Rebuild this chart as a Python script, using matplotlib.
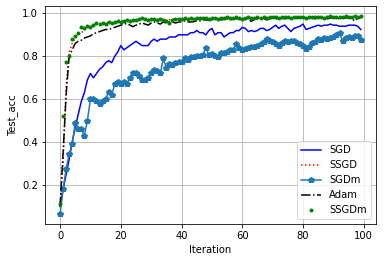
import numpy as np
import matplotlib
matplotlib.use("Agg")
import matplotlib.pyplot as plt

# === Test accuracy per iteration ===
sgd = [
    0.10, 0.18, 0.25, 0.32, 0.40, 0.47, 0.53, 0.59, 0.63, 0.69,
    0.72, 0.70, 0.72, 0.74, 0.75, 0.77, 0.78, 0.77, 0.80, 0.82,
    0.85, 0.83, 0.84, 0.85, 0.86, 0.87, 0.86, 0.85, 0.85, 0.85,
    0.87, 0.88, 0.87, 0.88, 0.88, 0.88, 0.89, 0.89, 0.89, 0.90,
    0.90, 0.90, 0.90, 0.91, 0.91, 0.92, 0.91, 0.91, 0.90, 0.92,
    0.93, 0.90, 0.91, 0.91, 0.89, 0.90, 0.91, 0.91, 0.92, 0.92,
    0.935, 0.93, 0.915, 0.92, 0.915, 0.92, 0.93, 0.93, 0.92, 0.925,
    0.935, 0.945, 0.93, 0.94, 0.945, 0.93, 0.915, 0.93, 0.935, 0.94,
    0.95, 0.925, 0.93, 0.935, 0.94, 0.945, 0.94, 0.945, 0.945, 0.95,
    0.945, 0.945, 0.94, 0.94, 0.94, 0.945, 0.945, 0.945, 0.94, 0.925,
]
ssgd = [
    0.10, 0.30, 0.66, 0.82, 0.86, 0.885, 0.90, 0.91, 0.92, 0.935,
    0.94, 0.945, 0.95, 0.948, 0.952, 0.955, 0.958, 0.955, 0.96, 0.963,
    0.968, 0.965, 0.967, 0.965, 0.97, 0.968, 0.972, 0.975, 0.972, 0.97,
    0.973, 0.975, 0.972, 0.975, 0.972, 0.968, 0.97, 0.973, 0.975, 0.973,
    0.972, 0.975, 0.973, 0.975, 0.972, 0.975, 0.976, 0.978, 0.975, 0.973,
    0.977, 0.975, 0.973, 0.978, 0.976, 0.979, 0.977, 0.975, 0.98, 0.978,
    0.973, 0.978, 0.98, 0.976, 0.978, 0.98, 0.977, 0.98, 0.978, 0.98,
    0.982, 0.98, 0.978, 0.98, 0.982, 0.98, 0.978, 0.982, 0.98, 0.979,
    0.982, 0.978, 0.98, 0.982, 0.98, 0.982, 0.98, 0.978, 0.982, 0.984,
    0.98, 0.982, 0.98, 0.982, 0.984, 0.982, 0.98, 0.984, 0.982, 0.985,
]
sgdm = [
    0.065, 0.18, 0.275, 0.345, 0.39, 0.49, 0.46, 0.46, 0.43, 0.50,
    0.60, 0.60, 0.59, 0.58, 0.59, 0.60, 0.635, 0.62, 0.67, 0.68,
    0.67, 0.68, 0.67, 0.70, 0.72, 0.72, 0.71, 0.69, 0.69, 0.70,
    0.72, 0.735, 0.73, 0.72, 0.79, 0.745, 0.765, 0.76, 0.77, 0.775,
    0.775, 0.79, 0.785, 0.795, 0.795, 0.80, 0.80, 0.805, 0.84, 0.805,
    0.81, 0.80, 0.795, 0.815, 0.815, 0.82, 0.83, 0.83, 0.855, 0.84,
    0.83, 0.835, 0.84, 0.845, 0.845, 0.85, 0.855, 0.865, 0.88, 0.87,
    0.865, 0.855, 0.85, 0.86, 0.87, 0.865, 0.87, 0.87, 0.86, 0.855,
    0.85, 0.835, 0.845, 0.86, 0.865, 0.88, 0.875, 0.885, 0.88, 0.885,
    0.89, 0.90, 0.91, 0.87, 0.885, 0.89, 0.885, 0.895, 0.895, 0.875,
]
adam = [
    0.10, 0.35, 0.62, 0.80, 0.83, 0.86, 0.87, 0.875, 0.885, 0.89,
    0.895, 0.905, 0.91, 0.915, 0.92, 0.925, 0.925, 0.93, 0.935, 0.94,
    0.945, 0.95, 0.953, 0.945, 0.938, 0.945, 0.95, 0.955, 0.95, 0.945,
    0.955, 0.96, 0.955, 0.95, 0.96, 0.955, 0.96, 0.96, 0.955, 0.96,
    0.96, 0.965, 0.96, 0.96, 0.961, 0.965, 0.965, 0.97, 0.969, 0.97,
    0.97, 0.972, 0.975, 0.97, 0.972, 0.975, 0.97, 0.972, 0.975, 0.975,
    0.972, 0.975, 0.97, 0.963, 0.972, 0.975, 0.978, 0.975, 0.97, 0.975,
    0.978, 0.975, 0.972, 0.978, 0.975, 0.978, 0.98, 0.975, 0.978, 0.98,
    0.978, 0.975, 0.98, 0.978, 0.975, 0.98, 0.978, 0.98, 0.975, 0.978,
    0.98, 0.978, 0.975, 0.98, 0.978, 0.98, 0.975, 0.965, 0.978, 0.98,
]
ssgdm = [
    0.11, 0.52, 0.775, 0.80, 0.88, 0.895, 0.91, 0.935, 0.93, 0.94,
    0.938, 0.945, 0.953, 0.95, 0.955, 0.95, 0.96, 0.955, 0.96, 0.964,
    0.96, 0.965, 0.969, 0.965, 0.97, 0.968, 0.972, 0.977, 0.975, 0.97,
    0.975, 0.972, 0.97, 0.975, 0.969, 0.965, 0.953, 0.97, 0.975, 0.972,
    0.975, 0.978, 0.975, 0.978, 0.975, 0.977, 0.978, 0.98, 0.978, 0.975,
    0.98, 0.978, 0.975, 0.98, 0.978, 0.982, 0.98, 0.978, 0.982, 0.98,
    0.975, 0.98, 0.982, 0.978, 0.98, 0.982, 0.98, 0.983, 0.98, 0.982,
    0.985, 0.982, 0.98, 0.983, 0.985, 0.982, 0.98, 0.985, 0.983, 0.982,
    0.985, 0.98, 0.983, 0.985, 0.982, 0.985, 0.983, 0.98, 0.985, 0.987,
    0.983, 0.985, 0.982, 0.985, 0.987, 0.985, 0.983, 0.987, 0.985, 0.988,
]

# === Plot setup ===
fig = plt.figure(figsize=(386 / 72, 262 / 72), dpi=72)
ax = fig.add_axes([0.1166, 0.145, 0.857, 0.832])

ax.plot(np.arange(len(sgd)), sgd, "b-", label="SGD")
ax.plot(np.arange(len(ssgd)), ssgd, "r:", label="SSGD")
ax.plot(np.arange(len(sgdm)), sgdm, "p-", color="tab:blue", label="SGDm")
ax.plot(np.arange(len(adam)), adam, "k-.", label="Adam")
ax.plot(np.arange(len(ssgdm)), ssgdm, "g.", label="SSGDm")

ax.set_xlabel("Iteration")
ax.set_ylabel("Test_acc")
ax.grid(True)
ax.legend(loc="lower right")

fig.savefig("out.png", dpi=72)
